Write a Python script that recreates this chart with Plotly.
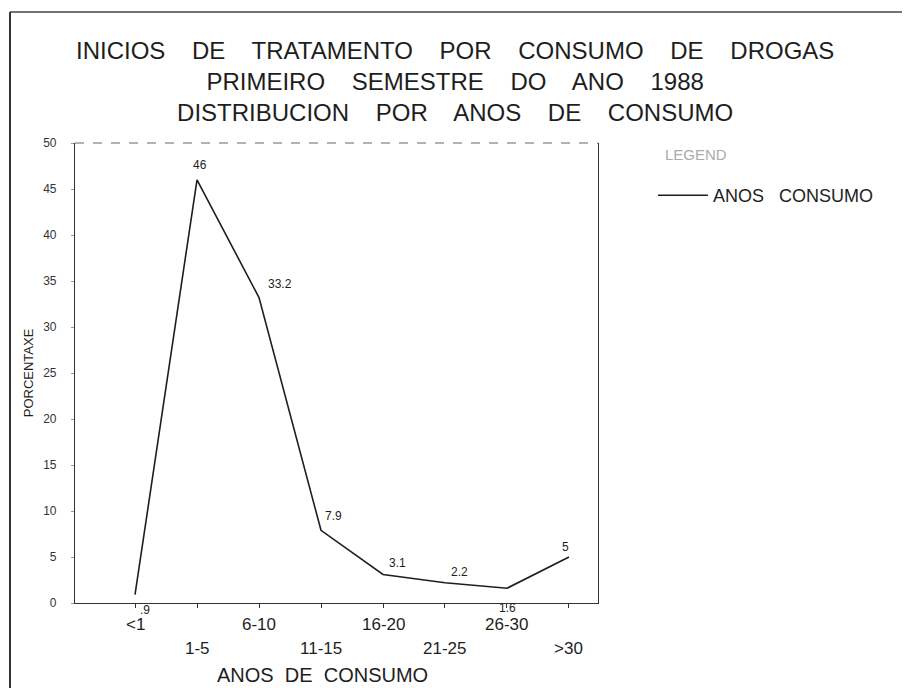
import plotly.graph_objects as go

# ---- data ----
categories = ["<1", "1-5", "6-10", "11-15", "16-20", "21-25", "26-30", ">30"]
values = [0.9, 46, 33.2, 7.9, 3.1, 2.2, 1.6, 5]
value_labels = [".9", "46", "33.2", "7.9", "3.1", "2.2", "1.6", "5"]
y_ticks = [0, 5, 10, 15, 20, 25, 30, 35, 40, 45, 50]
title_lines = [
    "INICIOS    DE    TRATAMENTO    POR    CONSUMO    DE    DROGAS",
    "PRIMEIRO    SEMESTRE    DO    ANO    1988",
    "DISTRIBUCION    POR    ANOS    DE    CONSUMO",
]
series_name = "ANOS   CONSUMO"
legend_title = "LEGEND"
x_title = "ANOS  DE  CONSUMO"
y_title = "PORCENTAXE"

# ---- styles ----
FONT = "Liberation Sans, Arial, Helvetica, sans-serif"
INK = "#1e1e1e"
label_offsets = [(10, -15), (3, 15), (21, 14), (12, 14), (14, 11), (15, 11), (1, -20), (-3, 10)]

xs = list(range(len(categories)))

fig = go.Figure()
fig.add_trace(go.Scatter(
    x=xs, y=values, mode="lines", name=series_name,
    line=dict(color=INK, width=1.6), showlegend=True,
))

annotations = []
# value labels
for x, v, t, (dx, dy) in zip(xs, values, value_labels, label_offsets):
    annotations.append(dict(x=x, y=v, xref="x", yref="y", text=t, showarrow=False,
                            xanchor="center", yanchor="middle",
                            xshift=dx, yshift=dy, font=dict(family=FONT, size=12, color=INK)))
# category labels in two staggered rows
for x, c in zip(xs, categories):
    annotations.append(dict(x=x, y=0, xref="x", yref="paper", text=c, showarrow=False,
                            xanchor="center", yanchor="middle", yshift=-21 if x % 2 == 0 else -45,
                            font=dict(family=FONT, size=17, color=INK)))
# x axis title
annotations.append(dict(x=0.474, y=0, xref="paper", yref="paper", text=x_title, showarrow=False,
                        xanchor="center", yanchor="middle", yshift=-72,
                        font=dict(family=FONT, size=20, color=INK)))
# three-line title
annotations.append(dict(x=0.7266, y=1, xref="paper", yref="paper", text="<br>".join(title_lines),
                        showarrow=False, xanchor="center", yanchor="middle", align="center",
                        yshift=62, font=dict(family=FONT, size=24, color=INK)))
# legend heading
annotations.append(dict(x=1.124, y=0.974, xref="paper", yref="paper", text=legend_title,
                        showarrow=False, xanchor="left", yanchor="middle",
                        font=dict(family=FONT, size=15, color="#ababab")))

shapes = [
    # dashed top frame of plot
    dict(type="line", xref="paper", yref="paper", x0=0, x1=1, y0=1, y1=1,
         line=dict(color="#666", width=1, dash="dash")),
    # outer page border (top and left)
    dict(type="line", xref="paper", yref="paper", x0=-0.1243, x1=1.6, y0=1.285, y1=1.285,
         line=dict(color="#444", width=1.5)),
    dict(type="line", xref="paper", yref="paper", x0=-0.1243, x1=-0.1243, y0=1.285, y1=-0.2,
         line=dict(color="#333", width=2)),
]

fig.update_layout(
    width=902, height=680,
    margin=dict(l=67, r=312, t=135, b=85),
    paper_bgcolor="white", plot_bgcolor="white",
    font=dict(family=FONT, color=INK),
    annotations=annotations, shapes=shapes,
    showlegend=True,
    legend=dict(
        x=1.105, y=0.926, xanchor="left", yanchor="top",
        font=dict(family=FONT, size=18, color=INK),
        itemwidth=50, bgcolor="rgba(0,0,0,0)",
    ),
)
fig.update_xaxes(
    range=[-0.968, 7.468], tickvals=xs, showticklabels=False,
    showline=True, linecolor="#333", linewidth=1.2, mirror=False,
    ticks="outside", ticklen=4, tickcolor="#333",
    showgrid=False, zeroline=False,
)
fig.update_yaxes(
    range=[0, 50], tickvals=y_ticks,
    showline=True, linecolor="#333", linewidth=1.2, mirror=True,
    ticks="outside", ticklen=3, tickcolor="#999",
    tickfont=dict(family=FONT, size=12, color="#333"), ticklabelstandoff=12,
    title=dict(text=y_title, font=dict(family=FONT, size=13, color=INK), standoff=6),
    showgrid=False, zeroline=False,
)

fig.write_html("out.html")
